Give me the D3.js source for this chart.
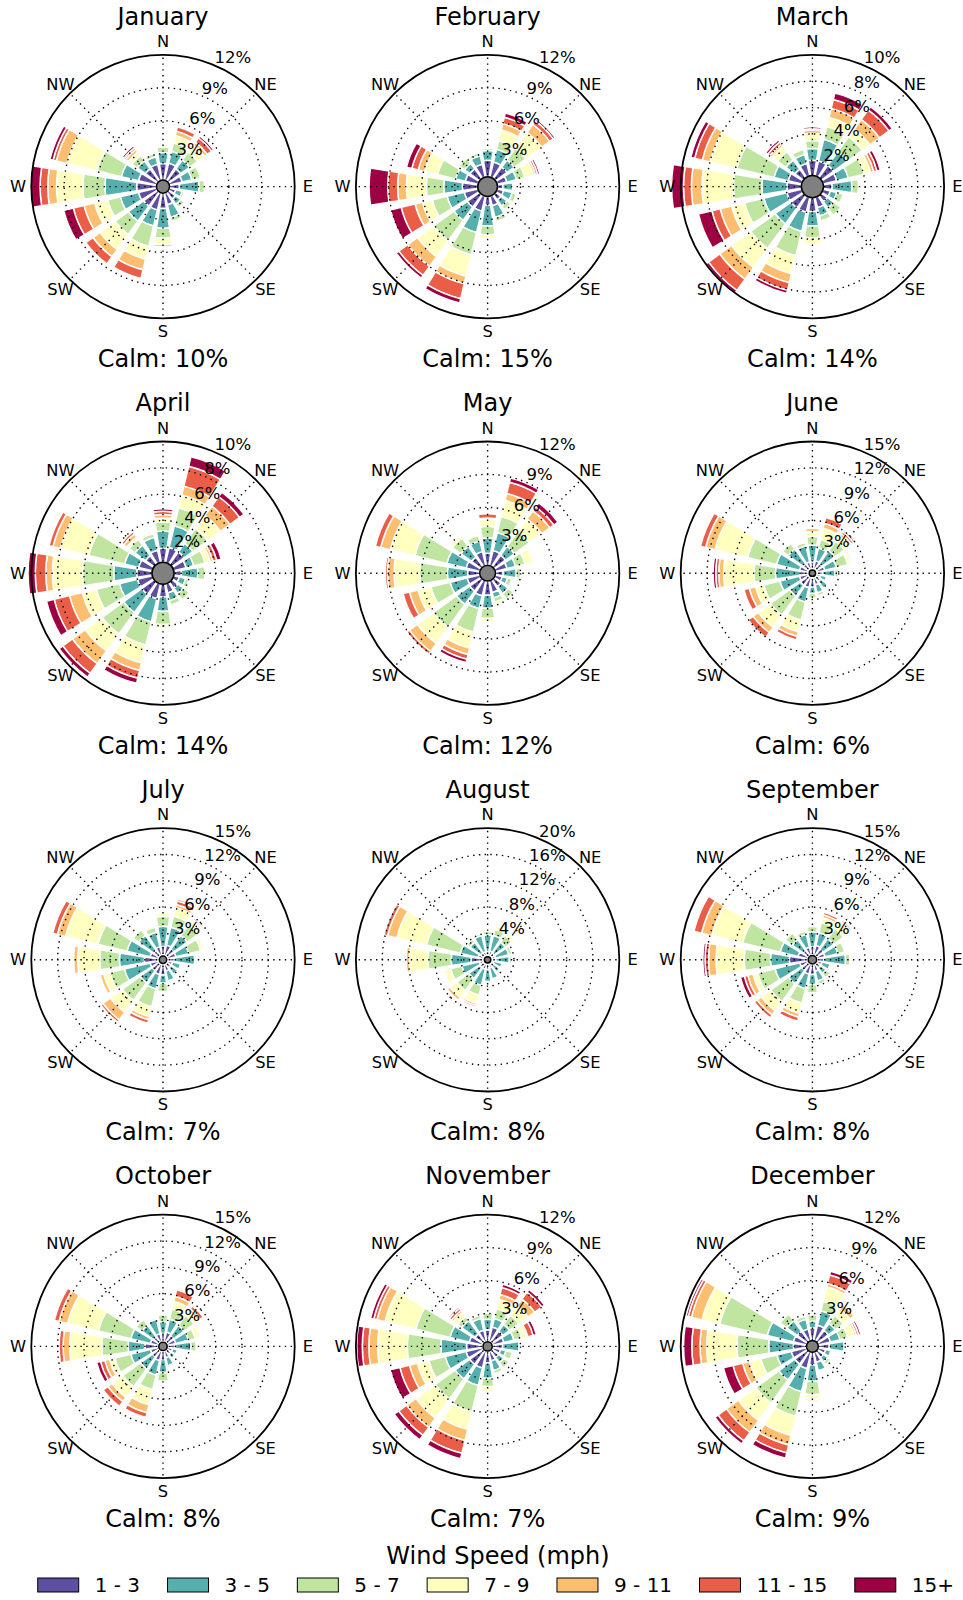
<!DOCTYPE html>
<html>
<head>
<meta charset="utf-8">
<script src="https://cdn.jsdelivr.net/npm/d3@7"></script>
<style>
  body { margin: 0; background: #fff; }
  text { font-family: "DejaVu Sans", sans-serif; fill: #000; }
</style>
</head>
<body>
<svg id="chart" width="963" height="1600"></svg>
<script>
// wind rose per month: 16 directions (N clockwise), 7 speed bins, values in %
const months = ["January", "February", "March", "April", "May", "June",
  "July", "August", "September", "October", "November", "December"];
const directions = ["N", "NNE", "NE", "ENE", "E", "ESE", "SE", "SSE",
  "S", "SSW", "SW", "WSW", "W", "WNW", "NW", "NNW"];
const compass = ["N", "NE", "E", "SE", "S", "SW", "W", "NW"];
const speedBins = ["1 - 3", "3 - 5", "5 - 7", "7 - 9", "9 - 11", "11 - 15", "15+"];
const calm = [10, 15, 14, 14, 12, 6, 7, 8, 8, 8, 7, 9];
const rMax = [12, 12, 10, 10, 12, 15, 15, 20, 15, 15, 12, 12];
const rStep = [3, 3, 2, 2, 3, 3, 3, 4, 3, 3, 3, 3];

const jan = [
  [1.5,1.0,0.5,0,0,0,0], [1.6,1.1,0.8,0.7,0.4,0.4,0], [1.4,1.0,0.9,0.8,0.3,0.5,0.2], [1.2,0.9,0.8,0.2,0,0,0],
  [0.9,1.8,0.5,0.2,0,0,0], [0.6,0.6,0.2,0,0,0,0], [0.8,0.6,0.4,0.1,0,0,0], [1.1,1.2,0.4,0.1,0,0,0],
  [1.4,1.8,0.9,0.6,0.2,0,0], [1.6,1.5,1.9,1.2,1.0,0.8,0], [1.6,1.7,1.5,1.7,0.8,0.8,0], [1.7,1.7,1.2,1.2,1.0,1.0,0.9],
  [1.8,2.9,2.0,2.4,0.8,0.7,0.9], [1.7,1.6,2.3,2.8,1.0,0.3,0.3], [1.4,0.9,0.6,0.4,0.3,0.2,0.2], [1.5,0.7,0.3,0,0,0,0]];
const feb = [
  [1.5,0.9,0.2,0.1,0.1,0.1,0], [1.4,1.2,0.8,1.0,0.6,0.6,0.4], [1.3,0.8,1.3,1.8,0.9,0.4,0.2], [0.9,0.9,0.8,0.8,0.2,0.2,0.2],
  [0.5,0.9,0,0,0,0,0], [0.6,0.8,0.4,0,0,0,0], [0.6,0.7,0.4,0,0,0,0], [0.9,1.1,0.4,0.1,0,0,0],
  [0.8,1.9,0.8,0.3,0,0,0], [1.4,2.0,2.1,2.0,0.7,1.4,0.4], [1.4,1.5,2.3,1.8,1.1,1.0,0.3], [1.3,1.6,1.4,0.9,0.7,1.3,1.0],
  [1.4,1.7,1.6,1.8,0.8,0.9,1.7], [1.2,0.9,1.7,1.2,0.6,0.6,0.5], [1.1,0.6,0.6,0,0,0,0], [1.2,0.8,0.3,0.1,0,0,0]];
const mar = [
  [1.16,0.9,0.6,0.55,0.25,0.1,0.15], [1.16,1.7,1.0,0.7,0.7,0.7,0.5], [1.16,1.3,1.4,0.7,0.9,0.9,0.3], [1.06,0.9,1.25,0.5,0.25,0.25,0.25],
  [0.66,1.5,0.5,0,0,0,0], [0.56,0.5,0.5,0,0,0,0], [0.56,0.6,0.7,0.1,0,0,0], [0.8,0.65,0.4,0.05,0,0,0],
  [1.06,1.1,0.9,0.5,0,0,0], [1.16,1.5,1.9,1.4,0.7,0.6,0.25], [1.16,1.5,2.3,1.8,1.1,1.05,0.25], [1.16,1.8,1.5,1.0,0.9,0.65,1.05],
  [1.1,1.9,2.15,2.4,0.8,0.6,0.9], [1.06,1.1,2.9,2.1,0.6,0.6,0.3], [0.8,0.85,0.8,0.5,0.2,0.2,0.2], [0.96,0.7,0.4,0,0,0,0]];
const apr = [
  [1.06,1.3,0.7,0.3,0.25,0.25,0.2], [1.16,1.7,1.4,1.0,0.7,1.55,0.75], [1.16,0.8,1.4,1.2,0.9,0.9,0.4], [0.96,0.6,0.9,0.4,0.2,0.3,0.35],
  [0.56,1.25,0.55,0,0,0,0], [0.43,0.5,0.25,0,0,0,0], [0.56,0.5,0.6,0.05,0,0,0], [0.7,0.6,0.35,0,0,0,0],
  [0.96,1.1,1.0,0.3,0.05,0,0], [1.16,1.8,1.8,1.4,0.6,0.6,0.4], [1.16,1.7,2.0,1.6,1.2,0.9,0.35], [1.16,1.4,1.8,1.1,1.0,1.2,0.6],
  [1.16,1.75,2.35,2.3,0.5,0.8,0.55], [1.06,1.1,2.8,2.2,0.6,0.3,0], [0.8,1.0,0.55,0.2,0.3,0.2,0], [0.96,1.0,0.3,0.1,0,0,0]];
const may = [
  [1.1,1.4,1.05,0.65,0.1,0.4,0], [1.4,1.7,1.5,1.5,0.65,1.05,0.4], [1.3,1.0,1.7,1.4,0.9,0.45,0.45], [1.1,0.8,0.9,0.75,0.15,0,0],
  [0.7,1.2,0.4,0.2,0.1,0,0], [0.65,0.5,0.4,0,0,0,0], [0.8,0.8,0.6,0.15,0,0,0], [1.1,0.5,0.4,0.3,0,0,0],
  [1.3,1.2,0.9,0.3,0,0,0], [1.4,1.2,2.2,1.5,0.6,0.45,0.3], [1.3,1.5,2.6,1.8,0.9,0.3,0], [1.2,1.6,1.8,1.2,0.8,0.6,0],
  [1.1,1.85,2.55,2.3,0.6,0.2,0], [1.3,1.8,3.0,2.3,0.9,0.5,0], [1.1,1.2,0.95,0.3,0,0,0], [1.3,1.0,0.5,0,0,0,0]];
const jun = [
  [0.95,1.9,1.0,0.55,0.35,0,0], [1.1,1.5,1.0,1.3,0.6,0.65,0], [1.0,1.8,1.35,0.75,0.3,0.3,0.2], [1.1,1.35,1.35,0.35,0.2,0,0],
  [0.8,1.4,0.4,0,0,0,0], [0.6,0.7,0.1,0,0,0,0], [0.8,0.95,0.15,0,0,0,0], [1.0,0.95,0.35,0,0,0,0],
  [1.2,0.75,0.55,0.15,0,0,0], [1.35,1.7,2.1,1.35,0.55,0.4,0], [1.35,1.5,2.7,1.7,0.75,0.7,0], [1.15,2.3,1.9,0.95,0.75,0.6,0],
  [1.05,2.8,2.45,3.45,0.55,0.35,0.3], [1.15,2.7,3.4,3.8,1.1,0.6,0], [0.95,2.1,0.8,0.1,0,0,0], [0.95,1.9,0.4,0.05,0,0,0]];
const jul = [
  [1.1,2.3,1.15,0.35,0,0,0], [1.3,2.1,1.3,1.0,0.35,0.45,0.2], [1.1,1.9,1.55,0.55,0.2,0.2,0], [1.1,1.5,1.4,0.35,0,0,0],
  [0.9,2.3,0.1,0,0,0,0], [0.7,0.95,0.2,0,0,0,0], [0.7,0.95,0.2,0,0,0,0], [0.9,1.15,0.2,0,0,0,0],
  [1.3,0.95,0.95,0,0,0,0], [1.3,1.7,2.1,1.15,0.35,0.4,0], [1.1,1.7,2.5,1.7,1.05,0.3,0], [1.1,3.0,1.7,0.75,0.4,0,0],
  [1.7,2.85,2.25,2.5,0.45,0,0], [1.1,2.7,3.4,3.8,0.95,0.55,0], [0.9,2.1,0.8,0,0,0,0], [1.1,1.7,0.6,0,0,0,0]];
const aug = [
  [0.77,2.55,0.5,0,0,0,0], [0.9,2.4,1.0,0.5,0,0,0], [0.77,2.05,1.25,0.5,0,0,0], [0.77,2.05,0.5,0,0,0,0],
  [0.77,2.05,0.35,0,0,0,0], [0.5,1.3,0.1,0,0,0,0], [0.5,1.3,0.2,0,0,0,0], [0.77,1.75,0.15,0,0,0,0],
  [1.0,1.8,0.25,0,0,0,0], [1.0,2.55,1.5,1.3,0.35,0.25,0], [1.0,2.05,2.25,1.3,0.5,0,0], [0.8,2.75,1.75,1.05,0.1,0,0],
  [2.05,3.0,3.55,2.8,0.5,0,0], [1.0,2.8,5.3,4.6,1.45,0.55,0], [0.77,2.05,0.6,0,0,0,0], [0.77,2.55,0.3,0,0,0,0]];
const sep = [
  [1.0,1.7,0.6,0,0,0,0], [1.2,1.5,1.2,0.55,0.35,0.3,0], [1.0,1.5,1.4,0.9,0.2,0.2,0], [1.0,1.5,0.8,0,0,0,0],
  [0.85,2.45,0.5,0,0,0,0], [0.65,0.95,0.2,0,0,0,0], [0.65,0.8,0.6,0,0,0,0], [0.85,1.15,0.4,0,0,0,0],
  [1.2,1.15,0.95,0.2,0,0,0], [1.2,1.7,1.7,1.2,0.45,0.45,0], [1.0,1.9,2.5,1.3,0.6,0.4,0], [1.0,2.9,2.05,0.55,0.6,0.4,0.45],
  [2.15,2.15,3.0,3.2,0.85,0.4,0.25], [1.2,2.1,4.4,3.6,1.2,0.9,0], [0.85,1.5,0.95,0,0,0,0], [1.0,1.5,0.4,0,0,0,0]];
const oct = [
  [1.0,1.35,0.75,0,0,0,0], [1.2,1.5,1.2,0.9,0.6,0.75,0], [1.0,1.5,1.4,0.55,0.35,0.4,0], [1.0,1.5,0.8,0.6,0.1,0,0],
  [0.85,1.85,0.6,0,0,0,0], [0.65,0.55,0.15,0,0,0,0], [0.65,0.55,0.2,0,0,0,0], [0.85,0.95,0.2,0,0,0,0],
  [1.0,1.5,1.0,0.2,0,0,0], [1.2,1.7,1.7,1.75,0.95,0.55,0], [1.0,1.7,2.5,1.5,0.6,0.65,0], [1.0,2.3,1.9,0.6,0.55,0.5,0.45],
  [1.6,1.9,3.0,3.65,0.75,0.45,0], [1.0,2.3,3.8,3.6,1.0,0.55,0], [0.85,1.65,0.8,0,0,0,0], [1.0,1.7,0.2,0,0,0,0]];
const nov = [
  [1.1,0.95,0.6,0.1,0.1,0.1,0.1], [1.4,0.8,0.9,0.9,0.45,0.65,0.3], [1.3,0.75,1.05,1.05,0.75,0.8,0.3], [1.1,0.95,0.75,0.45,0.1,0.5,0.3],
  [0.95,1.5,0.05,0,0,0,0], [0.8,0.5,0.6,0,0,0,0], [0.8,0.6,0.6,0,0,0,0], [0.95,0.9,0.3,0,0,0,0],
  [1.1,1.4,0.75,0.45,0.05,0,0], [1.6,1.65,2.45,1.65,1.05,1.2,0.5], [1.6,1.65,2.25,2.15,1.05,0.9,0.5], [1.6,1.95,1.55,1.05,0.75,0.9,0.9],
  [1.5,2.35,3.05,2.7,0.8,0.6,0.5], [1.3,1.8,3.2,2.9,0.75,0.3,0.3], [1.0,1.5,0.45,0.5,0.2,0.25,0.15], [1.1,1.1,0.3,0,0,0,0]];
const dec = [
  [1.15,0.6,0.6,0,0,0,0], [1.45,1.35,0.9,1.35,0.3,0.8,0.35], [1.25,0.8,0.9,0.75,0.45,0,0], [1.15,0.9,0.75,0.6,0.2,0.2,0.2],
  [1.0,1.35,0,0,0,0,0], [0.7,0.5,0.1,0,0,0,0], [0.7,0.5,0.3,0,0,0,0], [0.95,0.8,0.1,0,0,0,0],
  [1.15,1.5,1.2,0.45,0.15,0,0], [1.55,2.15,2.3,1.8,0.9,0.75,0.5], [1.45,1.8,2.6,1.95,1.35,0.95,0.35], [1.45,1.35,1.5,1.05,0.65,0.9,0.9],
  [1.2,2.25,2.9,2.75,0.6,0.75,0.75], [1.25,2.45,4.45,1.65,1.0,0.3,0.2], [1.15,1.2,0.75,0,0,0,0], [1.1,0.9,0.3,0,0,0,0]];
const freq = [jan, feb, mar, apr, may, jun, jul, aug, sep, oct, nov, dec];

// Spectral_r, 7 steps
const palette = ["#5e4fa2", "#55afad", "#bfe5a0", "#ffffbf", "#fdbf6f", "#ea5d47", "#9e0142"];

const svg = d3.select("#chart");
const R = 131.7;
const colX = [163, 487.6, 812.4];
const rowY = [186.6, 573.2, 959.8, 1346.4];
const sector = Math.PI * 2 / directions.length;
const arc = d3.arc();

months.forEach((name, k) => {
  const cx = colX[k % 3], cy = rowY[Math.floor(k / 3)];
  const g = svg.append("g").attr("transform", `translate(${cx},${cy})`);
  const r = d3.scaleLinear().domain([0, rMax[k]]).range([0, R]);
  const offset = calm[k] * 0.06;

  // stacked bars
  const segs = [];
  freq[k].forEach((vals, i) => {
    let base = offset;
    vals.forEach((v, j) => {
      if (v > 0) segs.push({ i, j, r0: base, r1: base + v });
      base += v;
    });
  });
  g.append("g").selectAll("path").data(segs).join("path")
    .attr("d", d => arc({
      innerRadius: r(d.r0), outerRadius: r(d.r1),
      startAngle: d.i * sector - 0.4 * sector, endAngle: d.i * sector + 0.4 * sector
    }))
    .attr("fill", d => palette[d.j])
    .attr("stroke", "#fff")
    .attr("stroke-width", 1.5);

  // grid
  const ticks = d3.range(rStep[k], rMax[k] + 0.001, rStep[k]);
  g.append("g").selectAll("circle").data(ticks.filter(t => t < rMax[k])).join("circle")
    .attr("r", d => r(d))
    .attr("fill", "none").attr("stroke", "#000").attr("stroke-width", 1.4)
    .attr("stroke-dasharray", "1.4,4.4");
  g.append("g").selectAll("line").data(d3.range(8)).join("line")
    .attr("x1", 0).attr("y1", 0)
    .attr("x2", d => R * Math.sin(d * Math.PI / 4))
    .attr("y2", d => -R * Math.cos(d * Math.PI / 4))
    .attr("stroke", "#000").attr("stroke-width", 1.4)
    .attr("stroke-dasharray", "1.4,4.4");
  g.append("circle").attr("r", R)
    .attr("fill", "none").attr("stroke", "#000").attr("stroke-width", 1.8);

  // calm circle
  g.append("circle").attr("r", r(offset))
    .attr("fill", "#808080").attr("stroke", "#000").attr("stroke-width", 1.5);

  // radial labels
  const la = Math.PI / 8;
  g.append("g").selectAll("text").data(ticks).join("text")
    .attr("x", d => r(d) * Math.sin(la) + 1)
    .attr("y", d => -r(d) * Math.cos(la) - 1.5)
    .attr("font-size", 16.5)
    .text(d => d + "%");

  // compass labels
  g.append("g").selectAll("text").data(compass).join("text")
    .attr("x", (d, i) => 145 * Math.sin(i * Math.PI / 4))
    .attr("y", (d, i) => -145 * Math.cos(i * Math.PI / 4))
    .attr("text-anchor", "middle")
    .attr("dominant-baseline", "central")
    .attr("font-size", 16.3)
    .text(d => d);

  g.append("text").attr("x", 0).attr("y", -162)
    .attr("text-anchor", "middle").attr("font-size", 24).text(name);
  g.append("text").attr("x", 0).attr("y", 180.5)
    .attr("text-anchor", "middle").attr("font-size", 24).text("Calm: " + calm[k] + "%");
});

// legend
svg.append("text").attr("x", 498).attr("y", 1564)
  .attr("text-anchor", "middle").attr("font-size", 24).text("Wind Speed (mph)");

const leg = svg.append("g");
const items = leg.selectAll("g").data(speedBins).join("g");
items.append("rect").attr("width", 41).attr("height", 14).attr("y", -14)
  .attr("fill", (d, i) => palette[i]).attr("stroke", "#000").attr("stroke-width", 1);
items.append("text").attr("x", 57).attr("y", 0).attr("font-size", 20).text(d => d);
const widths = [];
items.each(function () { widths.push(57 + this.querySelector("text").getComputedTextLength()); });
const left = 37.7, right = 954;
const gap = (right - left - d3.sum(widths)) / (widths.length - 1);
let xPos = left;
items.attr("transform", (d, i) => {
  const t = `translate(${xPos},1592)`;
  xPos += widths[i] + gap;
  return t;
});
</script>
</body>
</html>
